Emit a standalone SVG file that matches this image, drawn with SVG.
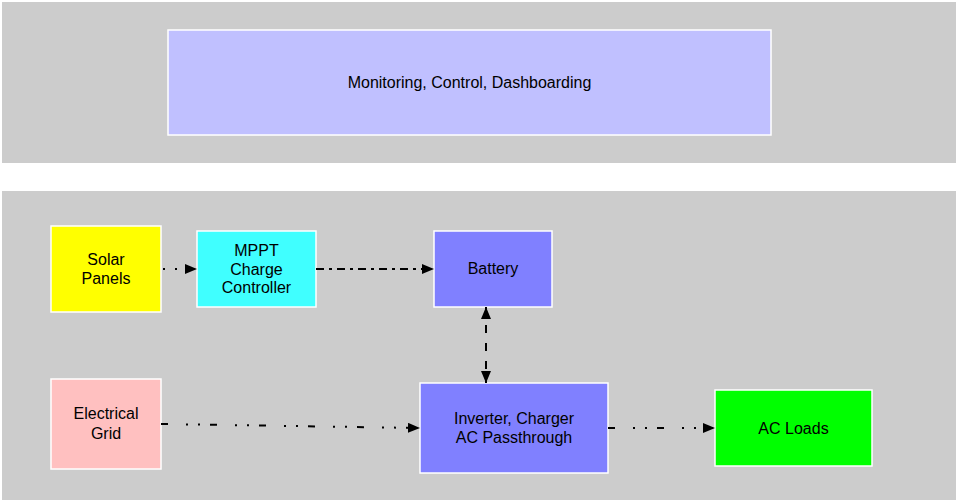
<svg xmlns="http://www.w3.org/2000/svg" width="958" height="502" viewBox="0 0 958 502">
<style>
.panel{fill:#cccccc;stroke:none}
.box{stroke:#ffffff;stroke-width:1.5}
.lbl{font-family:"Liberation Sans",Arial,sans-serif;font-size:16px;fill:#000;text-anchor:middle}
.c{stroke:#000;stroke-width:2;fill:none}
</style>
<defs>
<marker id="arr" viewBox="0 0 12 10" refX="12" refY="5" markerWidth="12" markerHeight="10" markerUnits="userSpaceOnUse" orient="auto-start-reverse">
<path d="M0,0 L12,5 L0,10 z" fill="#000"/>
</marker>
</defs>
<rect class="panel" x="2" y="2" width="954" height="161"/>
<rect class="panel" x="2" y="191" width="954" height="309"/>
<g id="monitoring">
<rect class="box" x="168" y="30" width="603" height="105" fill="#c0c0ff"/>
<text class="lbl" x="469.5" y="88">Monitoring, Control, Dashboarding</text>
</g>
<g id="solar">
<rect class="box" x="51" y="226" width="110" height="86" fill="#ffff00"/>
<text class="lbl" x="106" y="265">Solar</text>
<text class="lbl" x="106" y="284">Panels</text>
</g>
<g id="mppt">
<rect class="box" x="197" y="231" width="119" height="76" fill="#40ffff"/>
<text class="lbl" x="256.5" y="256">MPPT</text>
<text class="lbl" x="256.5" y="275">Charge</text>
<text class="lbl" x="256.5" y="293">Controller</text>
</g>
<g id="battery">
<rect class="box" x="434" y="231" width="118" height="76" fill="#8080ff"/>
<text class="lbl" x="493" y="274">Battery</text>
</g>
<g id="grid">
<rect class="box" x="51" y="379" width="110" height="90" fill="#ffc0c0"/>
<text class="lbl" x="106" y="419">Electrical</text>
<text class="lbl" x="106" y="439">Grid</text>
</g>
<g id="inverter">
<rect class="box" x="420" y="383" width="188" height="90" fill="#8080ff"/>
<text class="lbl" x="514" y="424">Inverter, Charger</text>
<text class="lbl" x="514" y="443">AC Passthrough</text>
</g>
<g id="acloads">
<rect class="box" x="715" y="390" width="157" height="76" fill="#00ff00"/>
<text class="lbl" x="793.5" y="434">AC Loads</text>
</g>
<g id="connectors">
<line class="c" x1="163" y1="269" x2="197" y2="269" stroke-dasharray="2,10" marker-end="url(#arr)"/>
<line class="c" x1="316" y1="269" x2="434" y2="269" stroke-dasharray="8,5,3,5" marker-end="url(#arr)"/>
<line class="c" x1="486" y1="307" x2="486" y2="383" stroke-dasharray="8,10" marker-start="url(#arr)" marker-end="url(#arr)"/>
<line class="c" x1="161" y1="424" x2="420" y2="428" stroke-dasharray="7,18,2,10,2,10" marker-end="url(#arr)"/>
<line class="c" x1="608" y1="428" x2="715" y2="428" stroke-dasharray="7,18,2,10,2,10" marker-end="url(#arr)"/>
</g>
</svg>
